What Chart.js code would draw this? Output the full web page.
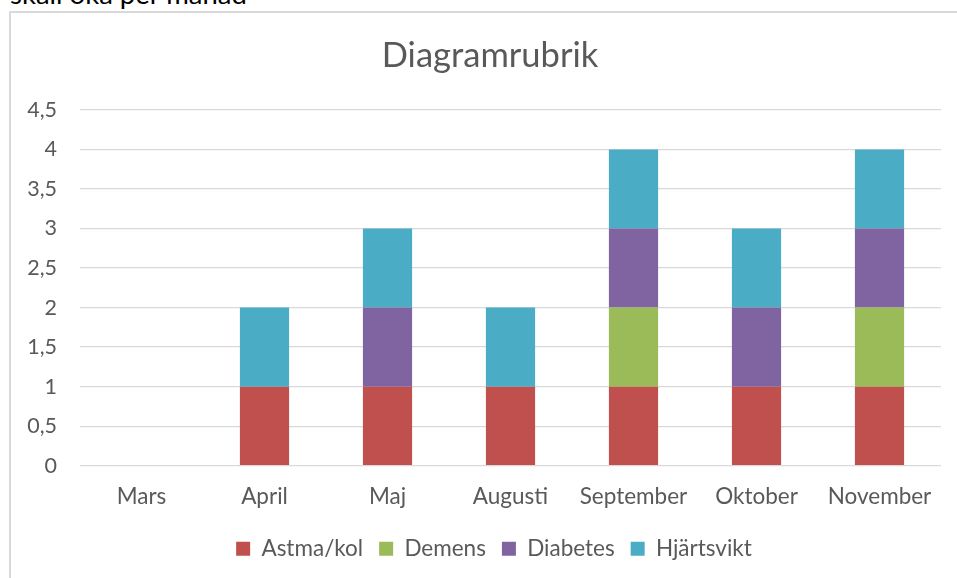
<!DOCTYPE html>
<html>
<head>
<meta charset="utf-8">
<script src="https://cdn.jsdelivr.net/npm/chart.js@4"></script>
<style>
  html, body { margin: 0; padding: 0; background: #ffffff; overflow: hidden; }
  #wrap { position: relative; width: 957px; height: 578px; }
  #frame { position: absolute; left: 9px; top: 11px; width: 1000px; height: 1000px;
           border: 2px solid #d9d9d9; box-sizing: border-box; pointer-events: none; }
  #note { position: absolute; left: 10px; top: -23px; font-family: Lato, "Open Sans", sans-serif;
          font-size: 27.5px; line-height: 34px; color: #000; white-space: nowrap; }
  canvas { position: absolute; left: 0; top: 0; }
</style>
</head>
<body>
<div id="wrap">
  <div id="note">skall öka per månad</div>
  <div id="frame"></div>
  <canvas id="c" width="957" height="578"></canvas>
</div>
<script>
const categories = ['Mars', 'April', 'Maj', 'Augusti', 'September', 'Oktober', 'November'];
const seriesNames = ['Astma/kol', 'Demens', 'Diabetes', 'Hjärtsvikt'];
const astmaKol   = [0, 1, 1, 1, 1, 1, 1];
const demens     = [0, 0, 0, 0, 1, 0, 1];
const diabetes   = [0, 0, 1, 0, 1, 1, 1];
const hjartsvikt = [0, 1, 1, 1, 1, 1, 1];
const yTickLabels = ['0', '0,5', '1', '1,5', '2', '2,5', '3', '3,5', '4', '4,5'];
const chartTitle = 'Diagramrubrik';

const colors = ['#c0504d', '#9bbb59', '#8064a2', '#4bacc6'];
const seriesValues = [astmaKol, demens, diabetes, hjartsvikt];
const FONT = 'Lato';
const TXT = '#595959';

// Centre title and legend on the chart frame (as the original does), not on the plot.
const centreOnFrame = {
  id: 'centreOnFrame',
  beforeDraw(chart) {
    if (chart.titleBlock) chart.titleBlock.left = 39;
    if (chart.legend) chart.legend.left = 47;
  }
};

new Chart(document.getElementById('c'), {
  type: 'bar',
  data: {
    labels: categories,
    datasets: seriesNames.map((n, i) => ({
      label: n,
      data: seriesValues[i],
      backgroundColor: colors[i],
      borderWidth: 0,
      categoryPercentage: 1.0,
      barPercentage: 0.4
    }))
  },
  plugins: [centreOnFrame],
  options: {
    responsive: false,
    animation: false,
    devicePixelRatio: 1,
    layout: { padding: { left: 0, right: 16, top: 0, bottom: 8 } },
    plugins: {
      title: {
        display: true,
        text: chartTitle,
        color: TXT,
        font: { family: FONT, size: 34.5, weight: 'normal' },
        padding: { top: 35, bottom: 33.5 }
      },
      legend: {
        position: 'bottom',
        labels: {
          color: TXT,
          font: { family: FONT, size: 22.5 },
          boxWidth: 14,
          boxHeight: 14,
          padding: 16
        }
      },
      tooltip: { enabled: false }
    },
    scales: {
      x: {
        stacked: true,
        afterFit: (s) => { s.height = 55.75; },
        grid: { display: false, drawTicks: false },
        border: { display: false },
        ticks: { color: TXT, font: { family: FONT, size: 22.5 }, padding: 17, maxRotation: 0 }
      },
      y: {
        stacked: true,
        min: 0,
        max: 4.5,
        afterFit: (s) => { s.width = 80; },
        grid: { color: '#d9d9d9', lineWidth: 1.3, drawTicks: false },
        border: { display: false },
        ticks: {
          stepSize: 0.5,
          color: TXT,
          font: { family: FONT, size: 21.5 },
          padding: 23,
          callback: (v, i) => yTickLabels[i]
        }
      }
    }
  }
});
</script>
</body>
</html>
